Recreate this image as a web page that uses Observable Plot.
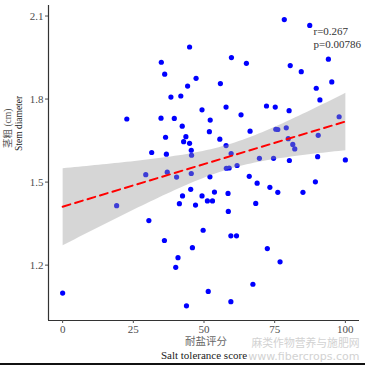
<!DOCTYPE html>
<html><head><meta charset="utf-8">
<script src="https://cdn.jsdelivr.net/npm/d3@7"></script>
<script src="https://cdn.jsdelivr.net/npm/@observablehq/plot@0.6"></script>
<style>
html,body{margin:0;padding:0;background:#fff;}
#chart{position:relative;width:365px;height:365px;overflow:hidden;background:#fff;}
#chart svg{display:block;}
#edge{position:absolute;left:0;right:0;top:363px;height:2px;background:#111;}
</style></head><body><div id="chart"><div id="edge"></div></div>
<script>
const saltScore = [78.4, 87.4, 44.9, 34.9, 59.7, 65.0, 94.0, 80.5, 84.4, 36.1, 47.2, 44.2, 55.8, 95.2, 89.7, 38.3, 41.8, 91.0, 49.3, 57.8, 72.1, 75.2, 80.1, 63.1, 97.8, 22.7, 34.8, 39.5, 52.2, 42.3, 75.4, 76.1, 79.1, 36.4, 43.6, 51.9, 66.3, 42.8, 44.9, 55.6, 79.8, 90.4, 57.8, 81.4, 82.1, 31.5, 36.7, 45.5, 45.6, 59.6, 69.6, 74.6, 90.2, 100.0, 80.2, 61.7, 57.9, 58.9, 29.4, 37.0, 40.3, 45.5, 52.1, 66.0, 68.8, 89.4, 73.3, 76.1, 85.0, 45.3, 53.7, 58.5, 42.4, 49.3, 51.2, 53.0, 41.3, 47.0, 68.3, 19.1, 58.6, 30.5, 49.7, 59.5, 61.5, 36.0, 45.9, 72.4, 40.8, 40.0, 76.9, 67.3, 0, 51.5, 59.5, 43.8];
const stemDiameter = [2.087, 2.066, 1.988, 1.933, 1.950, 1.929, 1.944, 1.921, 1.899, 1.890, 1.875, 1.847, 1.856, 1.862, 1.839, 1.807, 1.811, 1.797, 1.761, 1.771, 1.775, 1.771, 1.758, 1.743, 1.736, 1.728, 1.731, 1.730, 1.724, 1.702, 1.691, 1.690, 1.696, 1.662, 1.664, 1.682, 1.684, 1.646, 1.640, 1.655, 1.657, 1.669, 1.632, 1.636, 1.620, 1.607, 1.601, 1.615, 1.597, 1.603, 1.586, 1.586, 1.592, 1.580, 1.578, 1.560, 1.550, 1.551, 1.527, 1.536, 1.518, 1.531, 1.519, 1.521, 1.496, 1.501, 1.481, 1.463, 1.463, 1.474, 1.464, 1.459, 1.450, 1.450, 1.432, 1.432, 1.422, 1.417, 1.423, 1.415, 1.394, 1.361, 1.326, 1.306, 1.306, 1.289, 1.263, 1.260, 1.227, 1.192, 1.212, 1.131, 1.099, 1.105, 1.068, 1.053];
const xTicks = [0, 25, 50, 75, 100];
const yTicks = [1.2, 1.5, 1.8, 2.1];
const xDomain = [-5, 105];
const yDomain = [1.0, 2.138];
const statLabels = ["r=0.267", "p=0.00786"];
const xTitle = ["耐盐评分", "Salt tolerance score"];
const yTitle = ["茎粗 (cm)", "Stem diameter"];
const watermark = ["麻类作物营养与施肥网", "www.fibercrops.com"];

const data = saltScore.map((s, i) => ({score: s, diam: stemDiameter[i]}));
const serif = "'Liberation Serif', 'Noto Sans CJK SC', serif";

const plot = Plot.plot({
  width: 365, height: 365,
  marginLeft: 48, marginRight: 6, marginTop: 5, marginBottom: 45,
  style: {fontFamily: serif, background: "#fff", overflow: "visible"},
  x: {domain: xDomain},
  y: {domain: yDomain},
  marks: [
    Plot.dot(data, {x: "score", y: "diam", r: 2.6, fill: "#0000ff"}),
    Plot.linearRegressionY(data, {x: "score", y: "diam", stroke: "#ff0000", strokeWidth: 2, strokeDasharray: "8,5", fill: "#999999", fillOpacity: 0.4, ci: 0.95}),
    Plot.ruleX([xDomain[0]], {stroke: "#333", strokeWidth: 1.2}),
    Plot.ruleY([yDomain[0]], {stroke: "#333", strokeWidth: 1.2}),
    Plot.axisX({ticks: xTicks, tickSize: 3, tickPadding: 2, fontSize: 11, color: "#4d4d4d", label: null}),
    Plot.axisY({ticks: yTicks, tickSize: 3, tickPadding: 2, tickFormat: d3.format(".1f"), fontSize: 11, color: "#4d4d4d", label: null}),
    Plot.text([statLabels[0]], {text: d => d, frameAnchor: "top-right", textAnchor: "start", lineAnchor: "middle", dx: -46, dy: 26, fontSize: 11, fill: "#333"}),
    Plot.text([statLabels[1]], {text: d => d, frameAnchor: "top-right", textAnchor: "start", lineAnchor: "middle", dx: -46, dy: 38.5, fontSize: 11, fill: "#333"}),
    Plot.text([watermark[0]], {text: d => d, frameAnchor: "bottom-right", textAnchor: "end", lineAnchor: "middle", dy: 23.5, fontSize: 10.8, fill: "#d2d2d2", fontFamily: "'Noto Sans CJK SC', sans-serif"}),
    Plot.text([watermark[1]], {text: d => d, frameAnchor: "bottom-right", textAnchor: "end", lineAnchor: "middle", dy: 35.5, fontSize: 11, fill: "#d2d2d2", fontFamily: "'DejaVu Sans', sans-serif"}),
    Plot.text([xTitle[0]], {text: d => d, frameAnchor: "bottom", lineAnchor: "middle", dx: 2, dy: 21.5, fontSize: 10.5, fill: "#666"}),
    Plot.text([xTitle[1]], {text: d => d, frameAnchor: "bottom", lineAnchor: "middle", dx: 0, dy: 35, fontSize: 11, fill: "#222"}),
    Plot.text([yTitle[0]], {text: d => d, frameAnchor: "left", lineAnchor: "middle", rotate: -90, dx: -41, dy: -15, fontSize: 9.5, fill: "#555"}),
    Plot.text([yTitle[1]], {text: d => d, frameAnchor: "left", lineAnchor: "middle", rotate: -90, dx: -29.5, dy: -12, fontSize: 9.5, fill: "#222"})
  ]
});
document.getElementById("chart").prepend(plot);
</script>
</body></html>
